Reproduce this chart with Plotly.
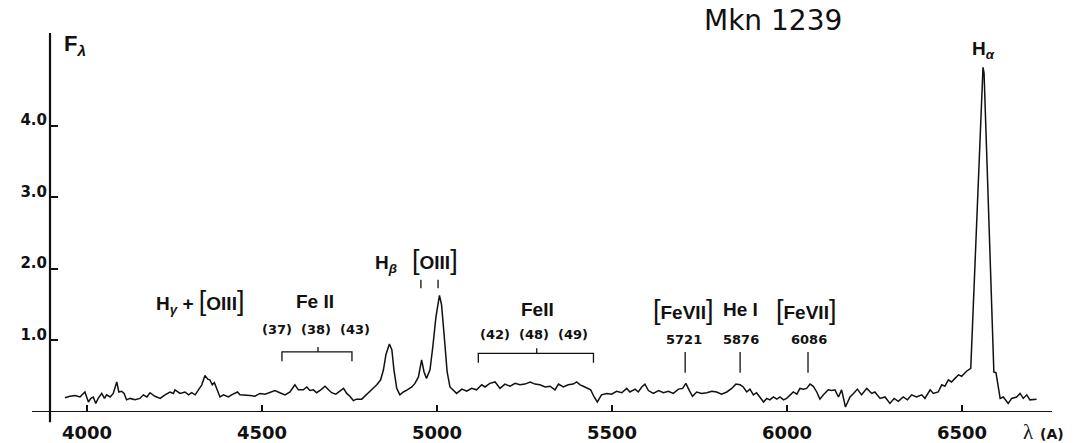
import plotly.graph_objects as go

# Spectrum of Mkn 1239: wavelength in Angstrom, flux density F_lambda
wavelength = [
    3937, 3951, 3966, 3980, 3994, 4004, 4011, 4018, 4025, 4032, 4042, 4050, 4056, 4066, 4075,
    4085, 4091, 4099, 4106, 4113, 4123, 4137, 4151, 4161, 4171, 4180, 4194, 4209, 4223, 4237,
    4247, 4251, 4266, 4280, 4290, 4299, 4309, 4318, 4328, 4337, 4345, 4351, 4358, 4364, 4371,
    4380, 4390, 4404, 4413, 4423, 4430, 4437, 4451, 4466, 4480, 4494, 4509, 4523, 4537, 4551,
    4566, 4580, 4594, 4604, 4618, 4628, 4637, 4647, 4656, 4668, 4680, 4690, 4699, 4711, 4723,
    4733, 4742, 4751, 4761, 4770, 4785, 4799, 4813, 4828, 4839, 4847, 4854, 4864, 4871, 4877,
    4885, 4894, 4904, 4915, 4928, 4937, 4947, 4956, 4963, 4970, 4980, 4988, 4997, 5007, 5013,
    5020, 5027, 5029, 5037, 5056, 5071, 5085, 5099, 5113, 5128, 5137, 5151, 5166, 5180, 5194,
    5209, 5223, 5237, 5251, 5266, 5280, 5294, 5309, 5323, 5337, 5347, 5361, 5375, 5389, 5399,
    5409, 5418, 5430, 5439, 5449, 5458, 5470, 5485, 5499, 5513, 5528, 5542, 5551, 5566, 5575,
    5585, 5594, 5604, 5618, 5633, 5647, 5661, 5675, 5690, 5702, 5711, 5721, 5730, 5742, 5756,
    5771, 5785, 5799, 5813, 5828, 5842, 5854, 5866, 5875, 5885, 5894, 5904, 5913, 5923, 5933,
    5942, 5951, 5961, 5971, 5980, 5990, 5999, 6009, 6018, 6028, 6037, 6047, 6056, 6066, 6075,
    6085, 6094, 6104, 6118, 6128, 6137, 6147, 6156, 6167, 6180, 6190, 6201, 6213, 6228, 6242,
    6251, 6266, 6280, 6294, 6306, 6318, 6332, 6344, 6356, 6370, 6385, 6394, 6409, 6418, 6432,
    6442, 6451, 6461, 6470, 6480, 6490, 6499, 6513, 6525, 6560, 6563, 6591, 6597, 6609, 6618,
    6632, 6642, 6656, 6666, 6675, 6685, 6694, 6713,
]
flux = [
    0.20, 0.22, 0.23, 0.21, 0.28, 0.14, 0.19, 0.21, 0.12, 0.19, 0.26, 0.19, 0.24, 0.21, 0.26,
    0.42, 0.28, 0.29, 0.26, 0.17, 0.19, 0.17, 0.19, 0.24, 0.21, 0.27, 0.22, 0.19, 0.24, 0.28,
    0.26, 0.31, 0.26, 0.28, 0.24, 0.27, 0.24, 0.31, 0.38, 0.51, 0.46, 0.45, 0.38, 0.41, 0.33,
    0.21, 0.24, 0.21, 0.24, 0.26, 0.28, 0.24, 0.24, 0.23, 0.22, 0.26, 0.25, 0.28, 0.30, 0.27,
    0.24, 0.28, 0.38, 0.31, 0.31, 0.35, 0.30, 0.31, 0.27, 0.31, 0.36, 0.31, 0.27, 0.25, 0.30,
    0.33, 0.26, 0.22, 0.16, 0.18, 0.18, 0.25, 0.31, 0.38, 0.45, 0.59, 0.80, 0.95, 0.87, 0.59,
    0.33, 0.24, 0.28, 0.31, 0.35, 0.40, 0.49, 0.73, 0.56, 0.47, 0.59, 0.91, 1.33, 1.63, 1.50,
    1.10, 0.60, 0.56, 0.35, 0.26, 0.32, 0.29, 0.33, 0.31, 0.38, 0.35, 0.40, 0.42, 0.33, 0.39,
    0.36, 0.40, 0.38, 0.39, 0.42, 0.39, 0.38, 0.35, 0.36, 0.31, 0.39, 0.35, 0.38, 0.39, 0.42,
    0.38, 0.36, 0.33, 0.31, 0.21, 0.14, 0.24, 0.26, 0.25, 0.29, 0.27, 0.33, 0.28, 0.32, 0.28,
    0.35, 0.39, 0.30, 0.26, 0.30, 0.27, 0.29, 0.26, 0.32, 0.33, 0.40, 0.30, 0.22, 0.28, 0.26,
    0.27, 0.29, 0.28, 0.25, 0.28, 0.33, 0.39, 0.38, 0.35, 0.28, 0.32, 0.24, 0.27, 0.21, 0.14,
    0.19, 0.17, 0.21, 0.18, 0.21, 0.17, 0.19, 0.24, 0.28, 0.25, 0.33, 0.32, 0.33, 0.39, 0.36,
    0.28, 0.18, 0.24, 0.31, 0.30, 0.31, 0.21, 0.31, 0.07, 0.21, 0.26, 0.32, 0.24, 0.33, 0.26,
    0.28, 0.19, 0.21, 0.12, 0.19, 0.15, 0.21, 0.17, 0.24, 0.21, 0.24, 0.19, 0.31, 0.26, 0.28,
    0.38, 0.36, 0.45, 0.42, 0.47, 0.52, 0.50, 0.57, 0.61, 4.82, 4.74, 0.56, 0.55, 0.19, 0.21,
    0.12, 0.19, 0.21, 0.26, 0.19, 0.24, 0.17, 0.18,
]

x_ticks = [4000, 4500, 5000, 5500, 6000, 6500]
x_tick_labels = ["4000", "4500", "5000", "5500", "6000", "6500"]
y_ticks = [1, 2, 3, 4]
y_tick_labels = ["1.0", "2.0", "3.0", "4.0"]

BRA = "<span style='font-weight:normal;font-size:27px'>[</span>"
KET = "<span style='font-weight:normal;font-size:27px'>]</span>"

# Emission-line identifications (label text, wavelength, height)
line_names = [
    "H<sub><i>γ</i></sub> + " + BRA + "OIII" + KET,
    "Fe II",
    "H<sub><i>β</i></sub>",
    BRA + "OIII" + KET,
    "FeII",
    BRA + "FeVII" + KET,
    "He I",
    BRA + "FeVII" + KET,
    "H<sub><i>α</i></sub>",
]
line_name_x = [4323, 4651, 4854, 4994, 5286, 5703, 5866, 6054, 6561]
line_name_y = [1.54, 1.54, 2.07, 2.13, 1.43, 1.43, 1.44, 1.43, 5.06]

# Multiplet / rest-wavelength sublabels
sub_names = ["(37)  (38)  (43)", "(42)  (48)  (49)", "5721", "5876", "6086"]
sub_x = [4654, 5277, 5706, 5869, 6063]
sub_y = [1.16, 1.08, 1.02, 1.02, 1.02]

# Fe II blend brackets: start, end, centre, level
bracket_start = [4557, 5118]
bracket_end = [4757, 5447]
bracket_mid = [4660, 5285]
bracket_level = [0.84, 0.82]

# Single-line markers: wavelength, bottom, top
marker_x = [4954, 5003, 5709, 5866, 6060]
marker_y0 = [1.73, 1.73, 0.55, 0.55, 0.55]
marker_y1 = [1.85, 1.85, 0.84, 0.84, 0.84]

BLACK = "#111111"
label_font = dict(family="Liberation Sans", size=19, color=BLACK, weight="bold")
small_font = dict(family="DejaVu Sans", size=13, color=BLACK, weight="bold")

fig = go.Figure()
fig.add_trace(go.Scatter(
    x=wavelength, y=flux, mode="lines",
    line=dict(color=BLACK, width=1.5),
    hoverinfo="skip", showlegend=False,
))

annotations = []
for t, x, y in zip(line_names, line_name_x, line_name_y):
    annotations.append(dict(x=x, y=y, xref="x", yref="y", text=t, showarrow=False,
                            font=label_font, xanchor="center", yanchor="middle"))
for t, x, y in zip(sub_names, sub_x, sub_y):
    annotations.append(dict(x=x, y=y, xref="x", yref="y", text=t, showarrow=False,
                            font=small_font, xanchor="center", yanchor="middle"))

# Object name, axis titles
annotations.append(dict(x=0.7216, y=1.0317, xref="paper", yref="paper", text="Mkn 1239",
                        showarrow=False,
                        font=dict(family="DejaVu Sans", size=28, color=BLACK),
                        xanchor="center", yanchor="middle"))
annotations.append(dict(x=3966, y=5.13, xref="x", yref="y",
                        text="F<sub><i>λ</i></sub>", showarrow=False,
                        font=dict(family="Liberation Sans", size=22, color=BLACK, weight="bold"),
                        xanchor="center", yanchor="middle"))
annotations.append(dict(x=0.977, y=-0.052, xref="paper", yref="paper", text="λ",
                        showarrow=False,
                        font=dict(family="Liberation Serif", size=21, color=BLACK),
                        xanchor="center", yanchor="middle"))
annotations.append(dict(x=1.0, y=-0.058, xref="paper", yref="paper", text="(A)",
                        showarrow=False,
                        font=dict(family="DejaVu Sans", size=14, color=BLACK, weight="bold"),
                        xanchor="center", yanchor="middle"))

shapes = []
for x0, x1, xm, lv in zip(bracket_start, bracket_end, bracket_mid, bracket_level):
    shapes.append(dict(type="path", xref="x", yref="y",
                       path=f"M {x0},{lv - 0.13} L {x0},{lv} L {x1},{lv} L {x1},{lv - 0.13}",
                       line=dict(color=BLACK, width=1.3)))
    shapes.append(dict(type="line", xref="x", yref="y", x0=xm, x1=xm, y0=lv, y1=lv + 0.07,
                       line=dict(color=BLACK, width=1.3)))
for x, y0, y1 in zip(marker_x, marker_y0, marker_y1):
    shapes.append(dict(type="line", xref="x", yref="y", x0=x, x1=x, y0=y0, y1=y1,
                       line=dict(color=BLACK, width=1.3)))

# Axis lines, slightly overshooting each other at the origin
shapes.append(dict(type="line", xref="paper", yref="y", x0=-0.018, x1=1.0, y0=0, y1=0,
                   line=dict(color=BLACK, width=2.2)))
shapes.append(dict(type="line", xref="paper", yref="paper", x0=0, x1=0, y0=-0.027, y1=1.0,
                   line=dict(color=BLACK, width=2.2)))

fig.update_layout(
    width=1075, height=443,
    margin=dict(l=50, r=23, t=33, b=31, autoexpand=False),
    paper_bgcolor="white", plot_bgcolor="white",
    showlegend=False,
    annotations=annotations,
    shapes=shapes,
    xaxis=dict(
        range=[3894.3, 6757.1], showgrid=False, zeroline=False, showline=False,
        automargin=False,
        tickmode="array", tickvals=x_ticks, ticktext=x_tick_labels,
        ticks="inside", ticklen=7, tickwidth=2, tickcolor=BLACK,
        ticklabelstandoff=8,
        tickfont=dict(family="DejaVu Sans", size=18, color=BLACK, weight="bold"),
    ),
    yaxis=dict(
        range=[0, 5.3], showgrid=False, zeroline=False, showline=False,
        automargin=False,
        tickmode="array", tickvals=y_ticks, ticktext=y_tick_labels,
        ticks="inside", ticklen=8, tickwidth=2, tickcolor=BLACK,
        ticklabelshift=-6, ticklabelstandoff=2,
        tickfont=dict(family="DejaVu Sans", size=15, color=BLACK, weight="bold"),
    ),
)

fig.write_html("out.html")
